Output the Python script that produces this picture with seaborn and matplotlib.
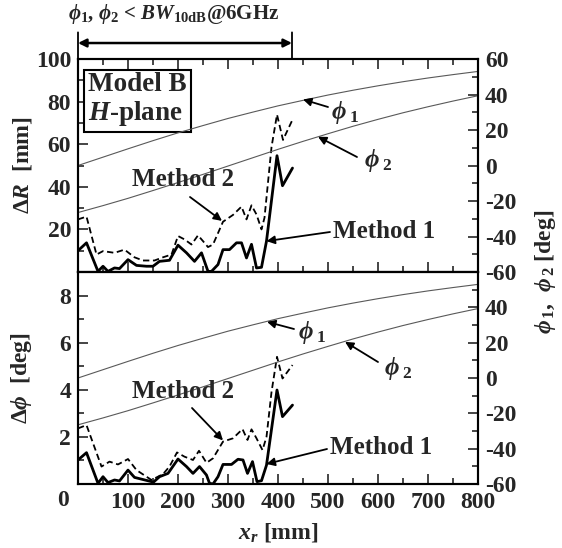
import numpy as np
import pandas as pd
import matplotlib
matplotlib.use("Agg")
import matplotlib.pyplot as plt
from matplotlib.ticker import MultipleLocator, FixedLocator
import seaborn as sns

# ---------------- data ----------------
xr_phi = [0, 50, 100, 150, 200, 250, 300, 350, 400, 450, 500, 550, 600, 650, 700, 750, 800]
phi1 = [0.0, 4.7, 9.4, 14.0, 18.4, 22.5, 26.5, 30.1, 33.6, 36.7, 39.7, 42.4, 44.9, 47.2, 49.3, 51.2, 53.0]
phi2 = [-26.5, -22.6, -18.5, -14.1, -9.6, -5.0, -0.3, 4.4, 9.1, 13.6, 17.9, 22.1, 26.0, 29.7, 33.1, 36.3, 39.3]

xr_m1_R = [0, 17, 40, 50, 60, 73, 83, 100, 117, 137, 150, 163, 183, 200, 217, 233, 247, 260, 267,
           280, 290, 303, 317, 327, 337, 347, 357, 367, 377, 398, 409, 429]
dR_m1 = [10, 13.7, 0.3, 2.7, 0.3, 1.9, 1.6, 5.8, 3.1, 2.7, 2.7, 5.0, 5.5, 12.6, 9.0, 5.0, 9.0, 0.3, 0.3,
         3.5, 10.5, 10.5, 13.7, 13.7, 6.6, 13.0, 1.9, 2.2, 14.5, 54.6, 40.5, 48.8]

xr_m2_R = [0, 17, 37, 50, 73, 93, 113, 130, 153, 170, 187, 200, 213, 227, 240, 250, 260, 270,
           290, 310, 327, 337, 347, 357, 367, 373, 387, 398, 410, 429]
dR_m2 = [24.7, 26.0, 8.2, 9.8, 9.0, 10.5, 6.9, 5.4, 5.4, 6.9, 8.2, 16.9, 15.3, 12.9, 17.2, 14.5, 11.7, 12.9,
         23.6, 26.8, 30.7, 24.7, 31.3, 27.0, 20.0, 25.5, 58.6, 73.9, 62.0, 71.5]

xr_m1_P = [0, 17, 40, 50, 60, 73, 83, 100, 113, 147, 150, 163, 180, 200, 217, 230, 243, 257, 263, 270,
           280, 290, 307, 320, 330, 339, 349, 358, 367, 377, 398, 409, 429]
dP_m1 = [1.02, 1.33, 0.03, 0.31, 0.06, 0.17, 0.13, 0.59, 0.28, 0.10, 0.06, 0.31, 0.45, 1.06, 0.74, 0.45,
         0.74, 0.38, 0.03, 0.0, 0.31, 0.83, 0.83, 1.05, 1.02, 0.45, 0.95, 0.10, 0.14, 0.80, 3.99, 2.86, 3.35]

xr_m2_P = [0, 17, 47, 63, 80, 100, 117, 147, 170, 183, 198, 213, 230, 242, 257, 270, 290, 310, 329,
           339, 347, 357, 369, 377, 387, 398, 409, 429]
dP_m2 = [2.36, 2.50, 0.74, 0.95, 0.83, 1.06, 0.59, 0.17, 0.42, 0.74, 1.34, 1.16, 1.02, 1.41, 0.90, 1.09,
         1.80, 1.94, 2.33, 1.87, 2.32, 1.94, 1.44, 2.00, 3.90, 5.40, 4.48, 5.05]

x_ticks = [0, 100, 200, 300, 400, 500, 600, 700, 800]
x_ticklabels = ["", "100", "200", "300", "400", "500", "600", "700", "800"]
dR_ticks = [0, 20, 40, 60, 80, 100]
dR_ticklabels = ["", "20", "40", "60", "80", "100"]
dP_ticks = [0, 2, 4, 6, 8]
dP_ticklabels = ["", "2", "4", "6", "8"]
phi_ticks = [-60, -40, -20, 0, 20, 40, 60]
phi_ticklabels_top = ["-60", "-40", "-20", "0", "20", "40", "60"]
phi_ticklabels_bot = ["-60", "-40", "-20", "0", "20", "40", ""]
bw_limit = 428

# ---------------- style ----------------
sns.set_style("white")
plt.rcParams["font.family"] = ["Liberation Serif", "DejaVu Serif"]
plt.rcParams["font.weight"] = "bold"
plt.rcParams["mathtext.fontset"] = "custom"
plt.rcParams["mathtext.rm"] = "Liberation Serif:bold"
plt.rcParams["mathtext.it"] = "Liberation Serif:bold:italic"
plt.rcParams["mathtext.bf"] = "Liberation Serif:bold"
plt.rcParams["axes.linewidth"] = 1.5
plt.rcParams["axes.edgecolor"] = "black"

W, H = 562, 548
fig = plt.figure(figsize=(W / 100, H / 100), dpi=100)


def fx(px):
    return px / W


def fy(py):
    return 1 - py / H


left, right = 78, 478
top, mid, bot = 59, 272, 484
ax1 = fig.add_axes([fx(left), fy(mid), fx(right) - fx(left), fy(top) - fy(mid)])
ax2 = fig.add_axes([fx(left), fy(bot), fx(right) - fx(left), fy(mid) - fy(bot)])
ax1r = ax1.twinx()
ax2r = ax2.twinx()

TS = 17
phi_df = pd.DataFrame({"x": xr_phi, "phi1": phi1, "phi2": phi2})
for axr in (ax1r, ax2r):
    sns.lineplot(data=phi_df, x="x", y="phi1", ax=axr, color="0.35", lw=0.8)
    sns.lineplot(data=phi_df, x="x", y="phi2", ax=axr, color="0.35", lw=0.8)

sns.lineplot(x=xr_m1_R, y=dR_m1, ax=ax1, color="black", lw=2.0)
sns.lineplot(x=xr_m2_R, y=dR_m2, ax=ax1, color="black", lw=1.3, linestyle=(0, (3.5, 2.0)))
sns.lineplot(x=xr_m1_P, y=dP_m1, ax=ax2, color="black", lw=2.0)
sns.lineplot(x=xr_m2_P, y=dP_m2, ax=ax2, color="black", lw=1.3, linestyle=(0, (3.5, 2.0)))

for ax in (ax1, ax2, ax1r, ax2r):
    ax.set_xlim(0, 800)
    ax.set_xlabel("")
    ax.set_ylabel("")
    for s in ax.spines.values():
        s.set_linewidth(1.5)
        s.set_visible(True)

ax1.set_ylim(0, 100)
ax2.set_ylim(0, 9)
ax1r.set_ylim(-60, 60)
ax2r.set_ylim(-60, 60)

for ax in (ax1, ax2):
    ax.xaxis.set_major_locator(FixedLocator(x_ticks))
    ax.xaxis.set_minor_locator(MultipleLocator(50))

ax1.set_xticklabels([])
ax2.set_xticklabels(x_ticklabels, fontsize=TS, fontweight="bold")
ax1.yaxis.set_major_locator(FixedLocator(dR_ticks))
ax1.set_yticklabels(dR_ticklabels, fontsize=TS, fontweight="bold")
ax1.yaxis.set_minor_locator(MultipleLocator(10))
ax2.yaxis.set_major_locator(FixedLocator(dP_ticks))
ax2.set_yticklabels(dP_ticklabels, fontsize=TS, fontweight="bold")
ax2.yaxis.set_minor_locator(MultipleLocator(1))
for axr, labs in ((ax1r, phi_ticklabels_top), (ax2r, phi_ticklabels_bot)):
    axr.yaxis.set_major_locator(FixedLocator(phi_ticks))
    axr.set_yticklabels(labs, fontsize=TS, fontweight="bold")
    axr.yaxis.set_minor_locator(MultipleLocator(10))

ax1.tick_params(axis="x", which="both", direction="in", top=True, bottom=True)
ax2.tick_params(axis="x", which="both", direction="in", top=False, bottom=True, pad=6)
for ax in (ax1, ax2):
    ax.tick_params(axis="y", which="both", direction="in", left=True, right=False, pad=5)
    ax.tick_params(which="major", length=7, width=1.2)
    ax.tick_params(which="minor", length=4, width=1.2)
for axr in (ax1r, ax2r):
    axr.tick_params(axis="y", which="both", direction="in", left=False, right=True, pad=5)
    axr.tick_params(which="major", length=7, width=1.2)
    axr.tick_params(which="minor", length=4, width=1.2)
    axr.tick_params(axis="x", which="both", bottom=False, top=False)

# extra "0" label at the lower-left corner
fig.text(fx(63), fy(500), "0", fontsize=TS, fontweight="bold", ha="center", va="center")

# axis labels
fig.text(fx(22), fy(165), r"$\mathit{Δ}R$  [mm]", rotation=90, fontsize=TS, ha="center", va="center")
fig.text(fx(22), fy(378), r"$\mathit{Δ}\phi$  [deg]", rotation=90, fontsize=TS, ha="center", va="center")
fig.text(fx(278), fy(532), r"$x_r$ [mm]", fontsize=TS, ha="center", va="center")
fig.text(fx(546), fy(272), r"$\phi_{\,1}$,  $\phi_{\,2}$ [deg]", rotation=90, fontsize=TS,
         ha="center", va="center")

# header + bracket
fig.text(fx(174), fy(14), r"$\phi_1$, $\phi_2$ < $BW_{\mathrm{10dB}}$@6GHz", fontsize=15,
         ha="center", va="center")
ax1.annotate("", xy=(0, 1.0), xytext=(0, 1.125), xycoords=ax1.get_xaxis_transform(),
             arrowprops=dict(arrowstyle="-", lw=1.3, color="black", shrinkA=0, shrinkB=0),
             annotation_clip=False)
ax1.annotate("", xy=(bw_limit, 1.0), xytext=(bw_limit, 1.125), xycoords=ax1.get_xaxis_transform(),
             arrowprops=dict(arrowstyle="-", lw=1.3, color="black", shrinkA=0, shrinkB=0),
             annotation_clip=False)
ax1.annotate("", xy=(bw_limit, 1.075), xytext=(0, 1.075), xycoords=ax1.get_xaxis_transform(),
             arrowprops=dict(arrowstyle="<|-|>", lw=1.8, color="black", shrinkA=0, shrinkB=0,
                             mutation_scale=12),
             annotation_clip=False)

# Model B box
ax1.text(0.025, 0.94, "Model B\n" + r"$H$-plane", transform=ax1.transAxes, fontsize=19.5,
         fontweight="bold", ha="left", va="top", linespacing=1.1,
         bbox=dict(boxstyle="square,pad=0.15", fc="white", ec="black", lw=1.5))

arrow_kw = dict(arrowstyle="-|>", lw=1.3, color="black", shrinkA=0, shrinkB=0, mutation_scale=12)


def pointer(ax, tip, start_px):
    ax.annotate("", xy=tip, xycoords="data", xytext=(fx(start_px[0]), fy(start_px[1])),
                textcoords="figure fraction", arrowprops=arrow_kw)


# top panel annotations
pointer(ax1r, (450, 37.2), (328, 107))
fig.text(fx(345), fy(112), r"$\phi_{\;1}$", fontsize=18, ha="center", va="center")
pointer(ax1r, (480, 16.2), (357, 157))
fig.text(fx(378), fy(160), r"$\phi_{\;2}$", fontsize=18, ha="center", va="center")
pointer(ax1, (288, 24.0), (190, 197))
fig.text(fx(183), fy(180), "Method 2", fontsize=18, fontweight="bold", ha="center", va="center")
pointer(ax1, (377, 14.5), (330, 232))
fig.text(fx(333), fy(232), "Method 1", fontsize=18, fontweight="bold", ha="left", va="center")

# bottom panel annotations
pointer(ax2r, (378, 31.8), (294, 329))
fig.text(fx(312), fy(333), r"$\phi_{\;1}$", fontsize=18, ha="center", va="center")
pointer(ax2r, (534, 20.5), (378, 362))
fig.text(fx(398), fy(368), r"$\phi_{\;2}$", fontsize=18, ha="center", va="center")
pointer(ax2, (290, 1.85), (192, 408))
fig.text(fx(183), fy(392), "Method 2", fontsize=18, fontweight="bold", ha="center", va="center")
pointer(ax2, (377, 0.85), (327, 449))
fig.text(fx(330), fy(447), "Method 1", fontsize=18, fontweight="bold", ha="left", va="center")

fig.savefig("out.png", dpi=100)
